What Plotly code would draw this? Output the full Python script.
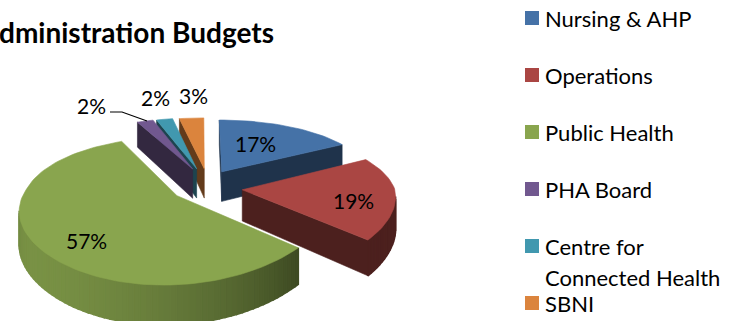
import math
import plotly.graph_objects as go

# Budget shares, in drawing order starting at twelve o'clock
categories = ["Nursing & AHP", "Operations", "Public Health", "PHA Board", "Centre for Connected Health", "SBNI"]
values = [17, 19, 57, 2, 2, 3]
colors = ["#4572A7", "#AA4643", "#89A54E", "#71588F", "#4198AF", "#DB843D"]
explode = [0.29, 0.28, 0.18, 0.30, 0.30, 0.30]
explode_lean = [0, 0, 0, 12, 10, 11]
legend_lines = [["Nursing & AHP"], ["Operations"], ["Public Health"], ["PHA Board"], ["Centre for", "Connected Health"], ["SBNI"]]

# Perspective projection of the pie's ground plane onto the page
CX, CY = 200, 188
AX, AY = 152, 68
SHEAR = -10
PERSP_X = 0.13
PERSP_Y = 0.2
DEPTH = 31


def project(x, y, drop=False):
    w = 1 - PERSP_Y * y
    sx = CX + AX * x / (1 - PERSP_X * y) + SHEAR * max(y, 0)
    sy = CY + AY * y / w
    if drop:
        sy += DEPTH / w
    return sx, sy


def rgb(hex_color, f):
    r, g, b = (int(hex_color[i:i + 2], 16) for i in (1, 3, 5))
    return f"rgb({r * f:.0f},{g * f:.0f},{b * f:.0f})"


def wall_shade(theta):
    d = theta - 235
    if d <= 0:
        return 0.45 + 0.43 * max(0.0, math.cos(d / 105 * math.pi / 2))
    return 0.45 + 0.43 * max(0.0, math.cos(d / 80 * math.pi / 2))


def poly(points, color, edge=0.6):
    xs = [p[0] for p in points] + [points[0][0]]
    ys = [p[1] for p in points] + [points[0][1]]
    return go.Scatter(x=xs, y=ys, mode="lines", fill="toself", fillcolor=color,
                      line=dict(color=color, width=edge), hoverinfo="skip", showlegend=False)


def facing(a, b, c):
    return (b[0] - a[0]) * (c[1] - a[1]) - (b[1] - a[1]) * (c[0] - a[0]) < 0


total = sum(values)
slices = []
acc = 0
for i, v in enumerate(values):
    t0 = acc / total * 360
    acc += v
    t1 = acc / total * 360
    mid = math.radians((t0 + t1) / 2 + explode_lean[i])
    ox = explode[i] * math.sin(mid)
    oy = -explode[i] * math.cos(mid)
    slices.append((i, t0, t1, ox, oy))

fig = go.Figure()

# Painted back to front so nearer slices cover the walls behind them
for i, t0, t1, ox, oy in [slices[k] for k in (5, 4, 3, 0, 1, 2)]:
    n = max(2, int((t1 - t0) / 2))
    angles = [t0 + (t1 - t0) * k / n for k in range(n + 1)]
    ground = [(ox + math.sin(math.radians(t)), oy - math.cos(math.radians(t))) for t in angles]
    apex = (ox, oy)
    dark = rgb(colors[i], 0.45)

    # radial walls, back faces culled
    for a, b in ((apex, ground[0]), (ground[-1], apex)):
        pa, pb = project(*a), project(*b)
        qa, qb = project(*a, True), project(*b, True)
        if facing(pa, pb, qb):
            fig.add_trace(poly([pa, pb, qb, qa], dark))

    # curved outer wall; the thicker edge closes the gaps between strips
    for k in range(n):
        a, b = ground[k], ground[k + 1]
        pa, pb = project(*a), project(*b)
        qa, qb = project(*a, True), project(*b, True)
        if facing(pa, pb, qb):
            fig.add_trace(poly([pa, pb, qb, qa], rgb(colors[i], wall_shade((angles[k] + angles[k + 1]) / 2)), edge=1.6))

    # top face
    fig.add_trace(poly([project(*apex)] + [project(*g) for g in ground], colors[i]))

# leader line for the PHA Board label
fig.add_trace(go.Scatter(x=[110, 122, 147], y=[112, 112, 121], mode="lines",
                         line=dict(color="black", width=1.2), hoverinfo="skip", showlegend=False))

annotations = []
label_pos = [(255, 143), (353, 200), (86, 240), (91, 105), (155, 97), (193, 95)]
for v, (x, y) in zip(values, label_pos):
    annotations.append(dict(x=x, y=y, text=f"{v}%", showarrow=False, xanchor="center", yanchor="middle",
                            font=dict(family="Lato", size=21, color="black")))

annotations.append(dict(x=276, y=32, text="<b>dministration Budgets</b>", showarrow=False,
                        xanchor="right", yanchor="middle", font=dict(family="Lato", size=28, color="black")))

# legend swatches and wrapped labels
shapes = []
row_y = [18, 75, 132, 189, 246, 303]
for lines, color, y in zip(legend_lines, colors, row_y):
    shapes.append(dict(type="rect", x0=525, x1=539, y0=y - 7, y1=y + 7, fillcolor=color, line=dict(width=0)))
    for j, line in enumerate(lines):
        annotations.append(dict(x=543, y=y + j * 31, text=line, showarrow=False, xanchor="left", yanchor="middle",
                                font=dict(family="Lato", size=22, color="black")))

fig.update_layout(
    width=738, height=321, margin=dict(l=0, r=0, t=0, b=0),
    paper_bgcolor="white", plot_bgcolor="white", showlegend=False,
    xaxis=dict(range=[0, 738], visible=False, fixedrange=True),
    yaxis=dict(range=[321, 0], visible=False, fixedrange=True),
    annotations=annotations, shapes=shapes,
)

fig.write_html("out.html", config={"displayModeBar": False})
